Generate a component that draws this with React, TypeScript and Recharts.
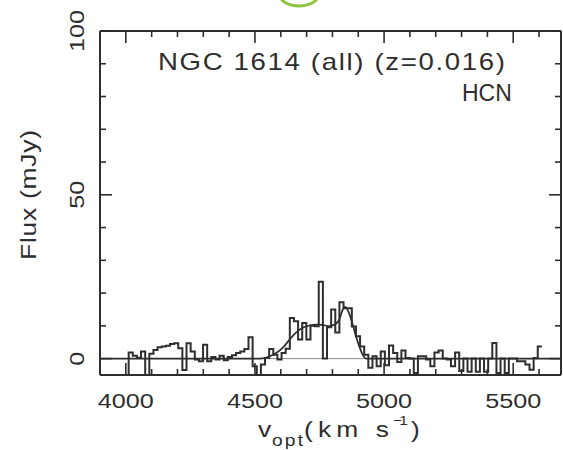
import { ComposedChart, Line, XAxis, YAxis, ReferenceLine } from 'recharts';

// spectrum channels (km/s), flux in mJy
const CHANNEL_START = 3995;
const CHANNEL_WIDTH = 16;
const FLUX = [
  -5.5, 1.9, 0.9, 0.3, 2.2, -5.5, 1.5, 2.6, 3.5, 3.7,
  3.9, 4.5, 4.7, 3.2, -3.5, 4.7, 2.2, -0.3, -0.8, 4.2,
  -0.8, 0.5, -0.3, 0.9, -0.5, 0.5, 1.0, 1.7, 2.2, 2.9,
  6.5, -2.3, -5.5, -1.8, 0.2, 2.9, 1.2, -0.3, 1.7, 3.0,
  12.4, 11.4, 5.8, 10.9, 5.8, 10.0, 9.9, 23.5, 0.0, 9.6,
  15.0, 8.0, 17.2, 15.4, 15.4, 9.8, 6.8, 3.7, 1.2, -2.8,
  0.7, -2.3, 2.2, -2.0, 4.0, 1.7, -1.0, 2.5, 0.2, 0.0,
  -4.4, 0.7, 0.7, -0.3, -2.3, 1.9, 2.5, 0.0, -0.3, -2.3,
  1.9, -3.8, 0.0, -4.0, 0.0, -4.0, 0.0, -4.0, 0.0, 4.8,
  -4.4, 0.0, -4.4, 0.0, 0.0, -0.8, -0.8, -1.8, -3.4, 0.2,
  3.7,
];

// fitted profile
const FIT_V = [3900, 4520, 4560, 4582, 4610, 4634, 4660, 4685, 4710, 4737, 4760, 4788, 4810, 4827, 4840, 4850, 4866, 4880, 4891, 4905, 4917, 4930, 5685];
const FIT_FLUX = [0, 0, 0.8, 1.7, 3.5, 5.8, 8.0, 9.4, 10.1, 10.4, 10.3, 9.9, 10.5, 12.0, 15.0, 15.8, 13.5, 10.0, 6.8, 3.5, 1.2, 0, 0];

const X_DOMAIN = [3900, 5685];
const Y_DOMAIN = [-5, 100];
const X_TICKS = [4000, 4100, 4200, 4300, 4400, 4500, 4600, 4700, 4800, 4900, 5000, 5100, 5200, 5300, 5400, 5500, 5600];
const X_LABELS = [4000, 4500, 5000, 5500];
const Y_TICKS = [0, 10, 20, 30, 40, 50, 60, 70, 80, 90, 100];
const Y_LABELS = [0, 50, 100];

const INK = '#2e2e2e';
const FONT = '"Liberation Sans", Arial, sans-serif';

const histData = [
  ...FLUX.map((f, i) => ({ v: CHANNEL_START + i * CHANNEL_WIDTH, flux: f })),
  { v: CHANNEL_START + FLUX.length * CHANNEL_WIDTH, flux: FLUX[FLUX.length - 1] },
];
const fitData = FIT_V.map((v, i) => ({ v, fit: FIT_FLUX[i] }));

// wide-glyph text, like the plotting package's font
const Wide = ({ x, y, size, sx = 1.2, rotate = 0, anchor = 'start', len, children }: any) => (
  <g transform={`translate(${x},${y}) rotate(${rotate}) scale(${sx},1)`}>
    <text
      x={0}
      y={0}
      fontSize={size}
      textAnchor={anchor}
      fill={INK}
      fontFamily={FONT}
      {...(len ? { textLength: len / sx, lengthAdjust: 'spacing' } : {})}
    >
      {children}
    </text>
  </g>
);

const BottomTick = (props: any) => {
  const { x, y, payload } = props;
  const major = X_LABELS.includes(payload.value);
  return (
    <g>
      <line x1={x} x2={x} y1={y} y2={y - (major ? 12 : 6)} stroke={INK} strokeWidth={1.6} />
      {major && <Wide x={x} y={y + 33} size={21} anchor="middle">{payload.value}</Wide>}
    </g>
  );
};

const TopTick = (props: any) => {
  const { x, y, payload } = props;
  const major = X_LABELS.includes(payload.value);
  return <line x1={x} x2={x} y1={y} y2={y + (major ? 12 : 6)} stroke={INK} strokeWidth={1.6} />;
};

const LeftTick = (props: any) => {
  const { x, y, payload } = props;
  const major = Y_LABELS.includes(payload.value);
  return (
    <g>
      <line x1={x} x2={x + (major ? 12 : 6)} y1={y} y2={y} stroke={INK} strokeWidth={1.6} />
      {major && <Wide x={x - 16} y={y} size={21} rotate={-90} anchor="middle">{payload.value}</Wide>}
    </g>
  );
};

const RightTick = (props: any) => {
  const { x, y, payload } = props;
  const major = Y_LABELS.includes(payload.value);
  return <line x1={x} x2={x - (major ? 12 : 6)} y1={y} y2={y} stroke={INK} strokeWidth={1.6} />;
};

const axisLine = { stroke: INK, strokeWidth: 2 };

export default function App() {
  return (
    <div style={{ position: 'relative', width: 563, height: 450, background: '#fff' }}>
      <style>{'body{margin:0}'}</style>
      <ComposedChart width={563} height={450} margin={{ top: 30, right: 1, bottom: 0, left: 0 }}>
        <XAxis
          xAxisId="bottom"
          type="number"
          dataKey="v"
          domain={X_DOMAIN}
          allowDataOverflow
          ticks={X_TICKS}
          interval={0}
          height={75}
          tickSize={0}
          tickMargin={0}
          tickLine={false}
          axisLine={axisLine}
          tick={<BottomTick />}
        />
        <XAxis
          xAxisId="top"
          orientation="top"
          type="number"
          dataKey="v"
          domain={X_DOMAIN}
          allowDataOverflow
          ticks={X_TICKS}
          interval={0}
          height={1}
          tickSize={0}
          tickMargin={0}
          tickLine={false}
          axisLine={axisLine}
          tick={<TopTick />}
        />
        <YAxis
          yAxisId="left"
          type="number"
          domain={Y_DOMAIN}
          allowDataOverflow
          ticks={Y_TICKS}
          interval={0}
          width={100}
          tickSize={0}
          tickMargin={0}
          tickLine={false}
          axisLine={axisLine}
          tick={<LeftTick />}
        />
        <YAxis
          yAxisId="right"
          orientation="right"
          type="number"
          domain={Y_DOMAIN}
          allowDataOverflow
          ticks={Y_TICKS}
          interval={0}
          width={1}
          tickSize={0}
          tickMargin={0}
          tickLine={false}
          axisLine={axisLine}
          tick={<RightTick />}
        />
        <ReferenceLine xAxisId="bottom" yAxisId="left" y={0} stroke="#8a8a8a" strokeWidth={1} />
        {/* invisible copy so the top and right frame axes get drawn */}
        <Line
          xAxisId="top"
          yAxisId="right"
          data={fitData}
          dataKey="fit"
          stroke="none"
          dot={false}
          activeDot={false}
          isAnimationActive={false}
        />
        <Line
          xAxisId="bottom"
          yAxisId="left"
          data={fitData}
          dataKey="fit"
          type="monotone"
          stroke={INK}
          strokeWidth={1.7}
          dot={false}
          isAnimationActive={false}
        />
        <Line
          xAxisId="bottom"
          yAxisId="left"
          data={histData}
          dataKey="flux"
          type="stepAfter"
          stroke={INK}
          strokeWidth={2}
          dot={false}
          isAnimationActive={false}
        />
      </ComposedChart>
      <svg
        width={563}
        height={450}
        style={{ position: 'absolute', left: 0, top: 0, pointerEvents: 'none' }}
      >
        <ellipse cx={299} cy={-5} rx={19} ry={11} fill="none" stroke="#8cc63f" strokeWidth={3} />
        <Wide x={158} y={70} size={23} len={347}>NGC 1614 (all) (z=0.016)</Wide>
        <Wide x={462} y={101} size={23} sx={1}>HCN</Wide>
        <Wide x={36} y={195} size={22} rotate={-90} anchor="middle" len={130}>Flux (mJy)</Wide>
        <Wide x={258} y={437} size={22}>v</Wide>
        <Wide x={272} y={446} size={16} len={31}>opt</Wide>
        <Wide x={304} y={437} size={22} len={85}>(km s</Wide>
        <Wide x={393} y={425} size={13} len={15}>−1</Wide>
        <Wide x={411} y={437} size={22}>)</Wide>
      </svg>
    </div>
  );
}
